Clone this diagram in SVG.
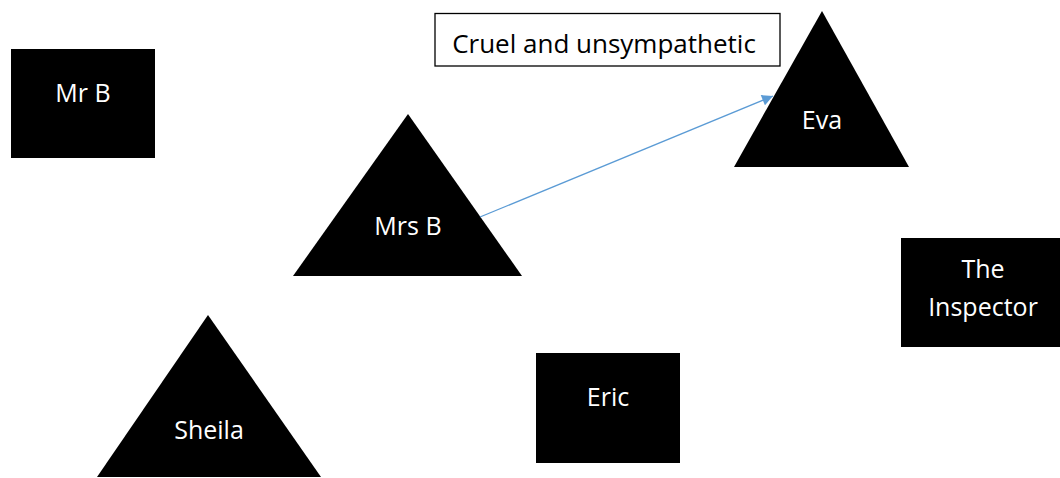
<svg xmlns="http://www.w3.org/2000/svg" width="1060" height="478" viewBox="0 0 1060 478">
<style>
.shape{fill:#000;}
.lbl{font-family:"Open Sans","Noto Sans",sans-serif;font-size:25px;fill:#fff;text-anchor:middle;}
.note{font-family:"Open Sans","Noto Sans",sans-serif;font-size:26px;fill:#000;text-anchor:middle;}
.conn{stroke:#5B9BD5;stroke-width:1.3;fill:none;}
</style>
<defs>
<marker id="arr" viewBox="0 0 10 10" refX="10" refY="5" markerWidth="12" markerHeight="11" markerUnits="userSpaceOnUse" orient="auto">
<path d="M0,0 L10,5 L0,10 z" fill="#5B9BD5"/>
</marker>
</defs>
<rect width="1060" height="478" fill="#fff"/>
<g id="mr-b"><rect class="shape" x="11" y="49" width="144" height="109"/><text class="lbl" x="83" y="102">Mr B</text></g>
<g id="note"><rect x="435" y="13.5" width="345" height="52.5" fill="#fff" stroke="#000" stroke-width="1.3"/><text class="note" x="604" y="53">Cruel and unsympathetic</text></g>
<g id="eva"><polygon class="shape" points="822,11 734,167 909,167"/><text class="lbl" x="822" y="129">Eva</text></g>
<g id="mrs-b"><polygon class="shape" points="408,114 293,276 522,276"/><text class="lbl" x="408" y="235">Mrs B</text></g>
<g id="inspector"><rect class="shape" x="901" y="238" width="159" height="109"/><text class="lbl" x="983" y="278">The</text><text class="lbl" x="983" y="316">Inspector</text></g>
<g id="sheila"><polygon class="shape" points="208,315 97,477 321,477"/><text class="lbl" x="209" y="439">Sheila</text></g>
<g id="eric"><rect class="shape" x="536" y="353" width="144" height="110"/><text class="lbl" x="608" y="406">Eric</text></g>
<g id="connectors"><line class="conn" x1="480" y1="217" x2="773" y2="96" marker-end="url(#arr)"/></g>
</svg>
